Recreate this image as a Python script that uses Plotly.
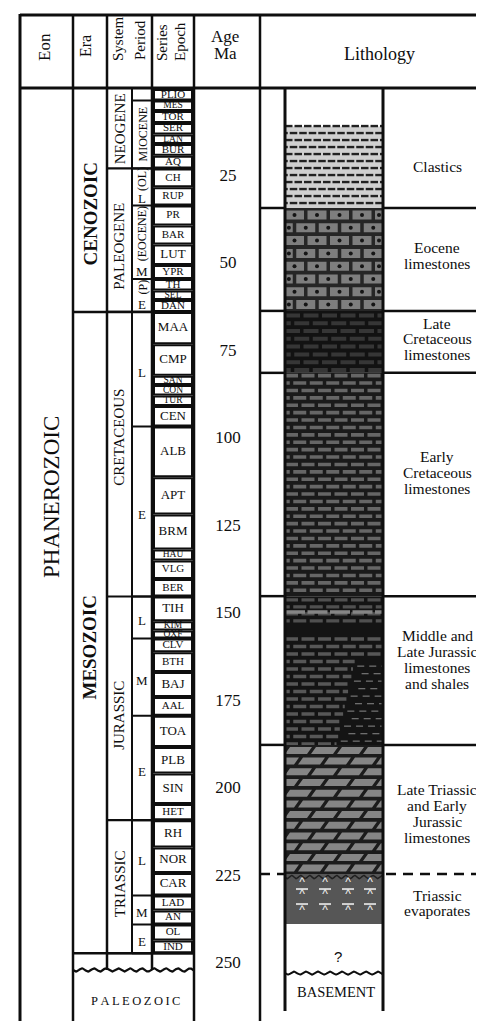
import numpy as np
import plotly.graph_objects as go

# ======================= DATA =======================
stage_names = ["PLIO", "MES", "TOR", "SER", "LAN", "BUR", "AQ", "CH", "RUP", "PR", "BAR", "LUT", "YPR",
               "TH", "SEL", "DAN", "MAA", "CMP", "SAN", "CON", "TUR", "CEN", "ALB", "APT", "BRM", "HAU",
               "VLG", "BER", "TIH", "KIM", "OXF", "CLV", "BTH", "BAJ", "AAL", "TOA", "PLB", "SIN", "HET",
               "RH", "NOR", "CAR", "LAD", "AN", "OL", "IND"]
stage_base_ma = [3.3, 6.3, 9.7, 13.0, 15.7, 19.1, 22.7, 28.1, 33.3, 39.0, 44.4, 50.3, 54.3,
                 57.6, 60.3, 63.7, 72.9, 81.9, 84.6, 87.6, 90.6, 96.4, 110.9, 121.6, 131.6, 134.7,
                 140.0, 145.0, 152.1, 154.7, 157.0, 160.9, 166.6, 173.7, 179.1, 188.0, 195.6, 204.3, 208.9,
                 216.7, 224.0, 230.4, 234.7, 238.7, 243.3, 246.9]

epoch_names = ["", "MIOCENE", "(OL)", "(EOCENE)", "(P)", "", "", "", "", "", "", "", ""]
epoch_subdiv = ["", "", "L", "M", "E", "L", "E", "L", "M", "E", "L", "M", "E"]
epoch_top_ma = [0.0, 3.3, 22.7, 33.3, 54.3, 63.7, 96.4, 145.0, 157.0, 179.1, 208.9, 230.4, 238.7]
epoch_base_ma = [3.3, 22.7, 33.3, 54.3, 63.7, 96.4, 145.0, 157.0, 179.1, 208.9, 230.4, 238.7, 246.9]

system_names = ["NEOGENE", "PALEOGENE", "CRETACEOUS", "JURASSIC", "TRIASSIC"]
system_top_ma = [0.0, 22.7, 63.7, 145.0, 208.9]
system_base_ma = [22.7, 63.7, 145.0, 208.9, 246.9]

era_names = ["CENOZOIC", "MESOZOIC"]
era_top_ma = [0.0, 63.7]
era_base_ma = [63.7, 246.9]

eon_names = ["PHANEROZOIC"]
paleozoic_top_ma = 251.7

age_ticks = [25, 50, 75, 100, 125, 150, 175, 200, 225, 250]

lith_lines = [["Clastics"], ["Eocene", "limestones"], ["Late", "Cretaceous", "limestones"],
              ["Early", "Cretaceous", "limestones"],
              ["Middle and", "Late Jurassic", "limestones", "and shales"],
              ["Late Triassic", "and Early", "Jurassic", "limestones"],
              ["Triassic", "evaporates"]]
lith_top_ma = [10.3, 34.0, 63.4, 81.1, 144.9, 187.4, 224.3]
lith_base_ma = [34.0, 63.4, 81.1, 144.9, 187.4, 224.3, 238.6]
basement_top_ma = 252.6
basement_base_ma = 263.4

# ======================= LAYOUT =======================
W, H = 484, 1021
PX = 3.5          # pixels per Ma on the vertical axis
TOP_PX = 81       # pixel row of 0 Ma


def d(px):        # pixel length -> axis units
    return px / PX


def ly(px):       # pixel row -> axis units (layout only: header/frame)
    return (px - TOP_PX) / PX


X_L, X_EON, X_ERA, X_SYS, X_SER, X_AGE, X_LITH, X_R = 12, 65, 99, 124, 144, 186, 252, 481
LC0, LC1 = 277, 375
SB0, SB1 = 146, 184
SERIF = "Liberation Serif"
INK = "#0e0e0e"
Y_BOTTOM = ly(H)

fig = go.Figure()
shapes = []
annotations = []


def seg(x0, y0, x1, y1, w=2, color=INK, dash="solid", layer="above"):
    shapes.append(dict(type="line", xref="x", yref="y", x0=x0, y0=y0, x1=x1, y1=y1,
                       line=dict(width=w, color=color, dash=dash), layer=layer))


def box(x0, y0, x1, y1, fill="rgba(0,0,0,0)", w=0, color=INK, layer="below"):
    shapes.append(dict(type="rect", xref="x", yref="y", x0=x0, y0=y0, x1=x1, y1=y1,
                       fillcolor=fill, line=dict(width=w, color=color), layer=layer))


def ann(x, y, text, size, angle=0, bold=False, family=SERIF, color=INK):
    if bold:
        text = "<b>" + text + "</b>"
    annotations.append(dict(x=x, y=y, xref="x", yref="y", text=text, showarrow=False,
                            textangle=angle, font=dict(family=family, size=size, color=color),
                            xanchor="center", yanchor="middle", borderpad=0))


def poly_trace(xs, ys, color):
    fig.add_trace(go.Scatter(x=xs, y=ys, mode="none", fill="toself", fillcolor=color,
                             hoverinfo="skip", showlegend=False))


def line_trace(xs, ys, color, width, dash="solid"):
    fig.add_trace(go.Scatter(x=xs, y=ys, mode="lines", connectgaps=False,
                             line=dict(color=color, width=width, dash=dash),
                             hoverinfo="skip", showlegend=False))


def bricks(top, base, pitch, h, w, gap, first=1.0, slant=0.0, x0=LC0, x1=LC1, right_fn=None):
    xs, ys, cx, cy = [], [], [], []
    span = (base - top) * PX
    y, r = first, 0
    while y < span - 0.5:
        yt = top + d(y)
        yb = top + d(min(y + h, span))
        right = right_fn(y) if right_fn else x1
        xa = x0 - ((w + gap) / 2) * (r % 2)
        while xa < right - 1:
            c = [(xa + slant, yt), (xa + w + slant, yt), (xa + w, yb), (xa, yb)]
            c = [(min(max(px_, x0), right), py_) for px_, py_ in c]
            if max(p[0] for p in c) - min(p[0] for p in c) > 1.5:
                for px_, py_ in c + [c[0]]:
                    xs.append(px_)
                    ys.append(py_)
                xs.append(None)
                ys.append(None)
                cx.append((max(xa, x0) + min(xa + w, right)) / 2)
                cy.append((yt + yb) / 2)
            xa += w + gap
        y += pitch
        r += 1
    return xs, ys, cx, cy


def dash_rows(top, base, pitch, w, gap, first, left_fn=None, x1=LC1):
    xs, ys = [], []
    span = (base - top) * PX
    y, r = first, 0
    while y < span - 0.5:
        yy = top + d(y)
        left = left_fn(y) if left_fn else LC0
        xa = left - ((w + gap) / 2) * (r % 2)
        while xa < x1:
            a, b = max(xa, left), min(xa + w, x1)
            if b - a > 1:
                xs += [a, b, None]
                ys += [yy, yy, None]
            xa += w + gap
        y += pitch
        r += 1
    return xs, ys


def wavy(x0, x1, y0, amp_px, period_px):
    xs = np.linspace(x0, x1, 240)
    ys = y0 + d(amp_px) * np.sin(2 * np.pi * (xs - x0) / period_px)
    return xs, ys


# ---------------- lithology column ----------------
# Clastics
t, b = lith_top_ma[0], lith_base_ma[0]
box(LC0, t + d(1.5), LC1, b, fill="#d0d0d0")
xs, ys = dash_rows(t, b, 7.0, 7.5, 2.0, 1.0)
line_trace(xs, ys, "#222222", 2.4)

# Eocene limestones
t, b = lith_top_ma[1], lith_base_ma[1]
box(LC0, t, LC1, b, fill="#262626")
xs, ys, cx, cy = bricks(t, b, 12.8, 9.0, 19, 3.5, first=2.5)
poly_trace(xs, ys, "#7e7e7e")
fig.add_trace(go.Scatter(x=cx, y=cy, mode="markers", marker=dict(size=4, color="#151515"),
                         hoverinfo="skip", showlegend=False))

# Late Cretaceous limestones
t, b = lith_top_ma[2], lith_base_ma[2]
box(LC0, t, LC1, b, fill="#121212")
xs, ys, _, _ = bricks(t, b, 7.8, 4.0, 15, 3.5, first=2.5)
poly_trace(xs, ys, "#363636")

# Early Cretaceous limestones
t, b = lith_top_ma[3], lith_base_ma[3]
box(LC0, t, LC1, b, fill="#1a1a1a")
xs, ys, _, _ = bricks(t, b, 7.4, 3.6, 13, 3.5, first=1.0)
poly_trace(xs, ys, "#666666")

# Middle and Late Jurassic limestones and shales
t, b = lith_top_ma[4], lith_base_ma[4]
box(LC0, t, LC1, b, fill="#141414")
xs, ys, _, _ = bricks(t, t + d(28), 7.0, 3.4, 13, 3.5, first=2.0)
poly_trace(xs, ys, "#505050")
xs, ys, _, _ = bricks(t + d(14), t + d(18), 7.0, 3.5, 20, 2.5, first=0.0)
poly_trace(xs, ys, "#858585")


def jur_right(y):
    return LC1 if y < 22 else 347 - (y - 22) * 0.22


xs, ys, _, _ = bricks(t + d(40), b, 7.5, 3.6, 13, 3.5, first=1.0, right_fn=jur_right)
poly_trace(xs, ys, "#575757")
xs, ys = dash_rows(t + d(40), b, 7.5, 7, 5, 30.0, left_fn=lambda y: 347 - (y + 40 - 62) * 0.22 + 4)
line_trace(xs, ys, "#6e6e6e", 1.3)

# Late Triassic and Early Jurassic limestones (dolomitic)
t, b = lith_top_ma[5], lith_base_ma[5]
box(LC0, t, LC1, b, fill="#1c1c1c")
xs, ys, _, _ = bricks(t, b, 10.7, 7.0, 22, 4.0, first=2.0, slant=5.0)
poly_trace(xs, ys, "#858585")

# Triassic evaporates
t, b = lith_top_ma[6], lith_base_ma[6]
box(LC0, t, LC1, b, fill="#565656")
wx, wy = wavy(LC0, LC1, t + d(3), 1.6, 9)
line_trace(list(wx), list(wy), "#202020", 1.5)
ev_cols = [294, 317, 340, 362]
dx, dy = [], []
for off in (15, 30):
    for c in ev_cols:
        dx += [c - 6, c + 6, None]
        dy += [t + d(off), t + d(off), None]
line_trace(dx, dy, "#d2d2d2", 2)
cxs, cys = [], []
for off in (9, 21, 37):
    for c in ev_cols:
        cxs.append(c)
        cys.append(t + d(off))
fig.add_trace(go.Scatter(x=cxs, y=cys, mode="text", text=["^"] * len(cxs),
                         textfont=dict(family="Liberation Sans", size=12, color="#f2f2f2"),
                         hoverinfo="skip", showlegend=False))

# unconformity + basement
wx, wy = wavy(LC0, LC1, basement_top_ma, 1.5, 12)
line_trace(list(wx), list(wy), INK, 2)
ann((LC0 + LC1) / 2 + 4, (lith_base_ma[6] + basement_top_ma) / 2 + d(8), "?", 15, family="Liberation Sans")
ann((LC0 + LC1) / 2 + 2, (basement_top_ma + basement_base_ma) / 2, "BASEMENT", 14.5)

# lithology column borders and dividers
seg(LC0, ly(80), LC0, basement_base_ma, w=3)
seg(LC1, ly(80), LC1, basement_base_ma, w=3)
for yb in lith_base_ma[:5]:
    seg(X_LITH, yb, LC0, yb, w=2.5)
    seg(LC1, yb, X_R, yb, w=2.5)
seg(X_LITH, lith_base_ma[5], LC0, lith_base_ma[5], w=2.5, dash="10px,7px")
seg(LC1 + 3, lith_base_ma[5], X_R, lith_base_ma[5], w=2.5, dash="10px,7px")

# descriptions
desc_offset_px = [0, -4, -3, -12, -11, 4, 4]
LINE_PX = 15.7
for lines, t, b, off in zip(lith_lines, lith_top_ma, lith_base_ma, desc_offset_px):
    c = (t + b) / 2 + d(off)
    n = len(lines)
    for i, txt in enumerate(lines):
        ann(429, c + d((i - (n - 1) / 2) * LINE_PX), txt, 15.5)

# ---------------- stratigraphic columns ----------------
stage_top_ma = [0.0] + stage_base_ma[:-1]
for t, b in zip(stage_top_ma, stage_base_ma):
    box(SB0, t + d(1), SB1, b - d(1), fill="white", w=2, layer="below")
st_sizes = []
for t, b in zip(stage_top_ma, stage_base_ma):
    hpx = (b - t) * PX
    st_sizes.append(13 if hpx >= 20 else (11 if hpx >= 11.5 else 9.5))
fig.add_trace(go.Scatter(x=[(SB0 + SB1) / 2] * len(stage_names),
                         y=[(t + b) / 2 for t, b in zip(stage_top_ma, stage_base_ma)],
                         mode="text", text=stage_names,
                         textfont=dict(family=SERIF, size=st_sizes, color=INK),
                         hoverinfo="skip", showlegend=False))

# epochs (period sub-column)
for name, sub, t, b in zip(epoch_names, epoch_subdiv, epoch_top_ma, epoch_base_ma):
    seg(X_SYS, b, X_AGE, b, w=2)
    if name and sub:
        ann(134, (t + b - d(16)) / 2, name, 12, angle=-90)
        ann(134, b - d(7.5), sub, 13)
    elif name:
        ann(134, (t + b) / 2, name, 12, angle=-90)
    elif sub:
        ann(134, (t + b) / 2 + d(3), sub, 13)

# systems
sys_offset_px = [0, 6, -17, 7, -3]
for name, t, b, off in zip(system_names, system_top_ma, system_base_ma, sys_offset_px):
    seg(X_ERA, b, X_AGE, b, w=2.2)
    ann(111.5, (t + b) / 2 + d(off), name, 15, angle=-90)

# eras
era_offset_px = [14, 15]
for name, t, b, off in zip(era_names, era_top_ma, era_base_ma, era_offset_px):
    seg(X_EON, b, X_AGE, b, w=2.5)
    ann(82, (t + b) / 2 + d(off), name, 19, angle=-90, bold=True)

# eon
ann(43, ly(489), eon_names[0], 23, angle=-90)

# below Mesozoic: empty row, unconformity, Paleozoic
wx, wy = wavy(X_EON, X_AGE, paleozoic_top_ma, 1.6, 12)
line_trace(list(wx), list(wy), INK, 2.2)
ann(127, (paleozoic_top_ma + Y_BOTTOM) / 2 + d(2), "\u2009".join("PALEOZOIC"), 12.5)

# age labels
fig.add_trace(go.Scatter(x=[220] * len(age_ticks), y=age_ticks, mode="text",
                         text=[str(a) for a in age_ticks],
                         textfont=dict(family=SERIF, size=17, color=INK),
                         hoverinfo="skip", showlegend=False))

# ---------------- frame & header ----------------
seg(X_L, ly(7), X_R, ly(7), w=3)
seg(X_L, ly(80), X_R, ly(80), w=3)
seg(X_L, ly(6), X_L, Y_BOTTOM, w=3)
seg(X_EON, ly(7), X_EON, Y_BOTTOM, w=2.5)
seg(X_ERA, ly(7), X_ERA, paleozoic_top_ma, w=2.5)
seg(X_SYS, ly(80), X_SYS, era_base_ma[-1], w=2)
seg(X_SER, ly(7), X_SER, paleozoic_top_ma, w=2.5)
seg(X_AGE, ly(7), X_AGE, Y_BOTTOM, w=2.5)
seg(X_LITH, ly(7), X_LITH, Y_BOTTOM, w=2.5)
seg(X_R, ly(6), X_R, Y_BOTTOM, w=3)

ann(36, ly(39), "Eon", 17, angle=-90)
ann(77, ly(38), "Era", 16, angle=-90)
ann(110, ly(31), "System", 15, angle=-90)
ann(132, ly(32), "Period", 15, angle=-90)
ann(154, ly(35), "Series", 15, angle=-90)
ann(172, ly(34), "Epoch", 15, angle=-90)
ann(217, ly(28), "Age", 17)
ann(217, ly(45), "Ma", 17)
ann(371, ly(46), "Lithology", 18)

fig.update_layout(
    width=W, height=H, margin=dict(l=0, r=0, t=0, b=0),
    paper_bgcolor="white", plot_bgcolor="white",
    xaxis=dict(range=[0, W], visible=False, fixedrange=True),
    yaxis=dict(range=[Y_BOTTOM, ly(0)], visible=False, fixedrange=True),
    shapes=shapes, annotations=annotations, showlegend=False,
)
fig.write_html("out.html")
